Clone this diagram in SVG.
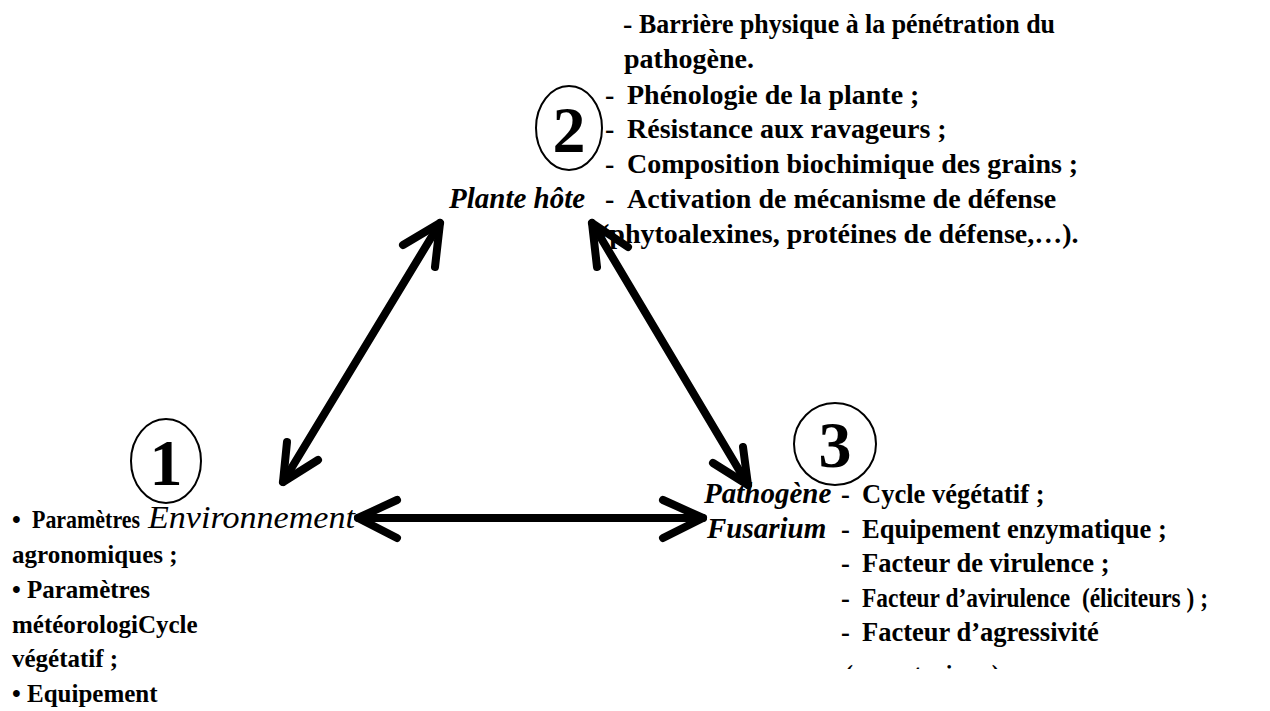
<svg xmlns="http://www.w3.org/2000/svg" width="1270" height="711" viewBox="0 0 1270 711">
<defs>
<style>
.t{font-family:"Liberation Serif","Times New Roman",serif;font-weight:bold;font-size:24px;fill:#000;white-space:pre}
.top{font-size:28px}
.right{font-size:26.5px}
.left{font-size:25px}
.env{font-family:"Liberation Serif","Times New Roman",serif;font-style:italic;font-size:31px;fill:#000}
.lbl{font-family:"Liberation Serif","Times New Roman",serif;font-weight:bold;font-style:italic;font-size:29px;fill:#000}
.num{font-family:"Liberation Serif","Times New Roman",serif;font-weight:bold;font-size:66px;fill:#000;text-anchor:middle}
.circ{fill:none;stroke:#000;stroke-width:2}
.arr{fill:none;stroke:#000;stroke-width:8;stroke-linecap:round;stroke-linejoin:round}
</style>
<clipPath id="clipB"><rect x="0" y="0" width="1270" height="669"/></clipPath>
</defs>
<rect width="1270" height="711" fill="#fff"/>

<g id="connectors">
<path class="arr" d="M283,482 L440,223"/>
<path class="arr" d="M403,245 L440,223 L435,267"/>
<path class="arr" d="M287,442 L283,482 L318,460"/>
<path class="arr" d="M592,223 L748,485"/>
<path class="arr" d="M628,247 L592,223 L597,267"/>
<path class="arr" d="M713,463 L748,485 L743,447"/>
<path class="arr" d="M358,518 L703,518"/>
<path class="arr" d="M397,500 L358,518 L397,538"/>
<path class="arr" d="M663,500 L703,518 L663,538"/>
</g>

<g id="node-plante">
<ellipse class="circ" cx="569" cy="128" rx="33" ry="42"/>
<text class="num" x="569" y="152">2</text>
<text class="lbl" x="449" y="208">Plante hôte</text>
<text class="t top" x="623" y="33">-</text>
<text class="t top" x="639" y="33" textLength="416" lengthAdjust="spacingAndGlyphs">Barrière physique à la pénétration du</text>
<text class="t top" x="624" y="68">pathogène.</text>
<text class="t top" x="605" y="104">-</text>
<text class="t top" x="627" y="104">Phénologie de la plante ;</text>
<text class="t top" x="605" y="138">-</text>
<text class="t top" x="627" y="138">Résistance aux ravageurs ;</text>
<text class="t top" x="605" y="173">-</text>
<text class="t top" x="627" y="173">Composition biochimique des grains ;</text>
<text class="t top" x="605" y="208">-</text>
<text class="t top" x="627" y="208">Activation de mécanisme de défense</text>
<text class="t top" x="600" y="243">(phytoalexines, protéines de défense,…).</text>
</g>

<g id="node-environnement">
<ellipse class="circ" cx="166" cy="461" rx="35" ry="42"/>
<text class="num" x="166" y="485">1</text>
<text class="t left" x="12" y="528">•</text>
<text class="t left" x="32" y="528" textLength="108" lengthAdjust="spacingAndGlyphs">Paramètres</text>
<text class="env" x="148" y="528" textLength="207" lengthAdjust="spacingAndGlyphs">Environnement</text>
<text class="t left" x="12" y="563">agronomiques ;</text>
<text class="t left" x="12" y="598">• Paramètres</text>
<text class="t left" x="12" y="633">météorologiCycle</text>
<text class="t left" x="12" y="667">végétatif ;</text>
<text class="t left" x="12" y="702">• Equipement</text>
</g>

<g id="node-pathogene">
<ellipse class="circ" cx="835" cy="444" rx="41" ry="41"/>
<text class="num" x="835" y="467">3</text>
<text class="lbl" x="704" y="503">Pathogène</text>
<text class="lbl" x="707" y="538">Fusarium</text>
<text class="t right" x="841" y="503">-</text>
<text class="t right" x="862" y="503">Cycle végétatif ;</text>
<text class="t right" x="841" y="538">-</text>
<text class="t right" x="862" y="538">Equipement enzymatique ;</text>
<text class="t right" x="841" y="572">-</text>
<text class="t right" x="862" y="572">Facteur de virulence ;</text>
<text class="t right" x="841" y="607">-</text>
<text class="t right" x="862" y="607" textLength="346" lengthAdjust="spacingAndGlyphs">Facteur d’avirulence  (éliciteurs ) ;</text>
<text class="t right" x="841" y="641">-</text>
<text class="t right" x="862" y="641">Facteur d’agressivité</text>
<text class="t" x="845" y="681" clip-path="url(#clipB)">( mycotoxines )</text>
</g>
</svg>
